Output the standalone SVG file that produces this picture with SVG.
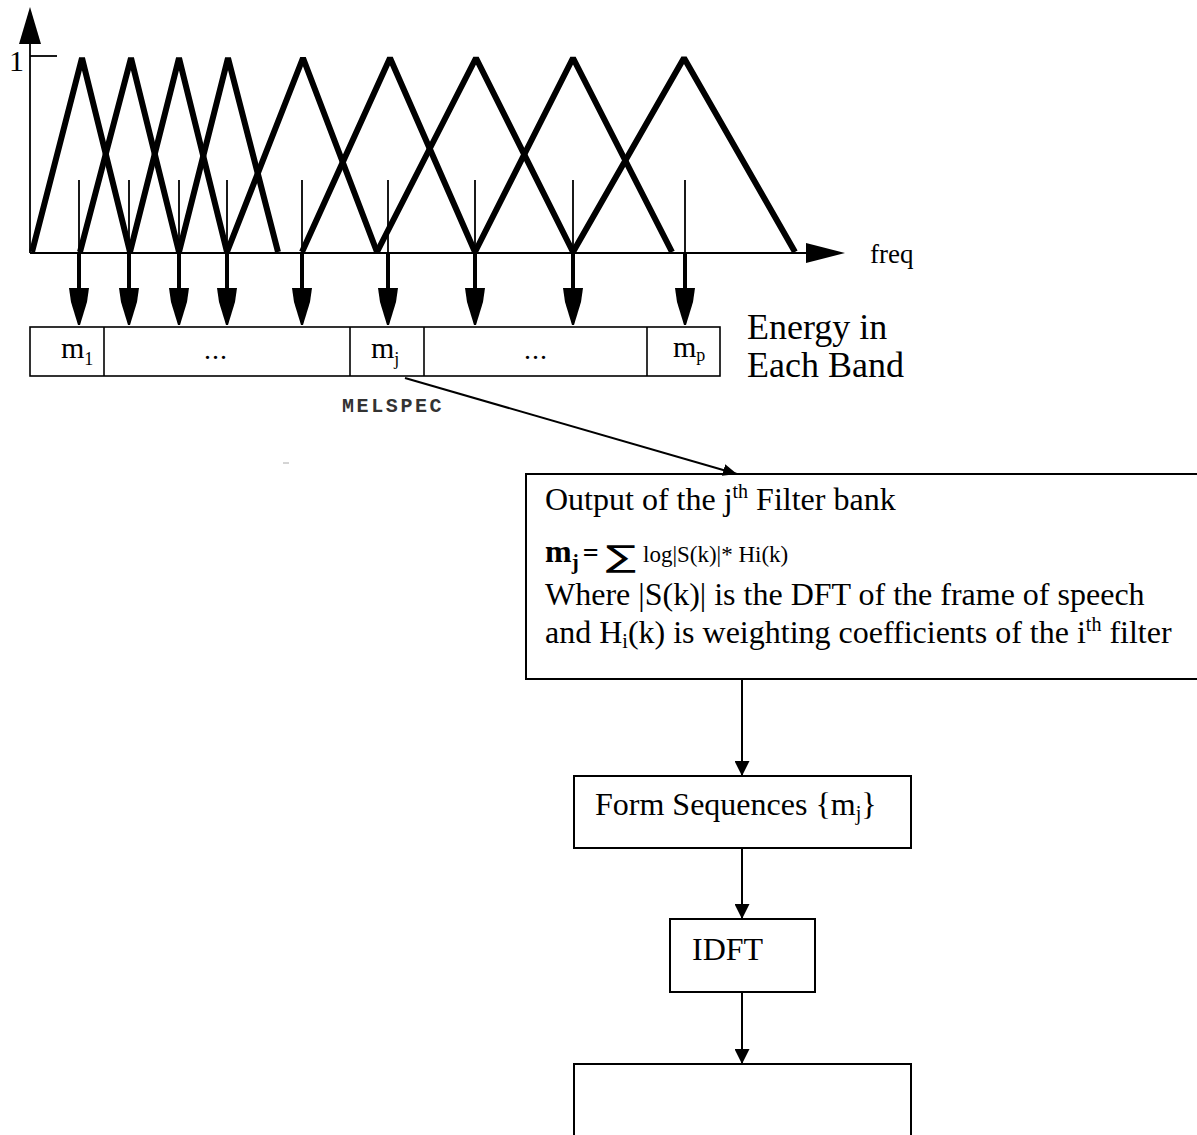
<svg xmlns="http://www.w3.org/2000/svg" width="1197" height="1135" viewBox="0 0 1197 1135">
<style>
.tri{fill:none;stroke:#000;stroke-width:6;stroke-linejoin:bevel}
.axis{fill:none;stroke:#000;stroke-width:1.8}
.box{fill:#fff;stroke:#000;stroke-width:2}
.band{fill:#fff;stroke:#000;stroke-width:1.6}
.div{stroke:#000;stroke-width:1.6}
.serif{font-family:"Liberation Serif","Times New Roman",serif;fill:#000}
.conn{stroke:#000;stroke-width:2;fill:none}
</style>
<defs>
<marker id="ah" viewBox="0 0 15 15" refX="15" refY="7.5" markerWidth="15" markerHeight="15" markerUnits="userSpaceOnUse" orient="auto"><path d="M0,0 L15,7.5 L0,15 z" fill="#000"/></marker>
<marker id="ah2" viewBox="0 0 14 12" refX="14" refY="6" markerWidth="14" markerHeight="12" markerUnits="userSpaceOnUse" orient="auto"><path d="M0,0 L14,6 L0,12 z" fill="#000"/></marker>
<g id="stem">
<line x1="0" y1="180" x2="0" y2="253" stroke="#000" stroke-width="1.8"/>
<line x1="0" y1="253" x2="0" y2="292" stroke="#000" stroke-width="4"/>
<path d="M-10,288 L10,288 L8,302 L1,325 L-1,325 L-8,302 z" fill="#000"/>
</g>
</defs>

<g id="filterbank-plot">
<line class="axis" x1="30" y1="44" x2="30" y2="253"/>
<polygon points="30,7 41,44 19,44" fill="#000"/>
<line class="axis" x1="30" y1="56" x2="57" y2="56"/>
<text class="serif" x="9" y="71" font-size="30">1</text>
<line class="axis" x1="30" y1="253" x2="806" y2="253"/>
<polygon points="806,243 845,253 806,263" fill="#000"/>
<text class="serif" x="870" y="263" font-size="27">freq</text>
<polyline class="tri" points="32,252 82,58 130,252"/>
<polyline class="tri" points="80,252 131,58 179,252"/>
<polyline class="tri" points="130,252 179,58 227,252"/>
<polyline class="tri" points="179,252 228,58 278,252"/>
<polyline class="tri" points="227,252 303,58 377,252"/>
<polyline class="tri" points="302,252 390,58 475,252"/>
<polyline class="tri" points="377,252 476,58 573,252"/>
<polyline class="tri" points="475,252 573,58 672,252"/>
<polyline class="tri" points="573,252 684,58 795,252"/>
<use href="#stem" x="79"/>
<use href="#stem" x="129"/>
<use href="#stem" x="179"/>
<use href="#stem" x="227"/>
<use href="#stem" x="302"/>
<use href="#stem" x="388"/>
<use href="#stem" x="475"/>
<use href="#stem" x="573"/>
<use href="#stem" x="685"/>
</g>

<g id="band-box">
<rect class="band" x="30" y="327" width="690" height="49"/>
<line class="div" x1="104" y1="327" x2="104" y2="376"/>
<line class="div" x1="350" y1="327" x2="350" y2="376"/>
<line class="div" x1="424" y1="327" x2="424" y2="376"/>
<line class="div" x1="647" y1="327" x2="647" y2="376"/>
<text class="serif" x="61" y="358" font-size="30">m<tspan font-size="18" dy="7">1</tspan></text>
<text class="serif" x="204" y="359" font-size="28" letter-spacing="1">...</text>
<text class="serif" x="371" y="358" font-size="30">m<tspan font-size="18" dy="7">j</tspan></text>
<text class="serif" x="524" y="359" font-size="28" letter-spacing="1">...</text>
<text class="serif" x="673" y="357" font-size="30">m<tspan font-size="18" dy="4">p</tspan></text>
<text class="serif" x="747" y="339" font-size="36">Energy in</text>
<text class="serif" x="747" y="377" font-size="36">Each Band</text>
<text x="342" y="412" font-family="Liberation Mono, Courier New, monospace" font-size="20" font-weight="bold" letter-spacing="2.6" fill="#333">MELSPEC</text>
<line x1="283" y1="463" x2="289" y2="463" stroke="#aaa" stroke-width="1"/>
</g>

<g id="output-box">
<rect class="box" x="526" y="474" width="690" height="205"/>
<text class="serif" x="545" y="510" font-size="32">Output of the j<tspan font-size="20" dy="-12">th</tspan><tspan dy="12"> Filter bank</tspan></text>
<text class="serif" x="545" y="562" font-size="32" font-weight="bold">m<tspan font-size="21" dy="7">j</tspan><tspan dy="-7" dx="4" font-size="28">=</tspan></text>
<text transform="translate(606,567) scale(1.5,1)" font-family="DejaVu Sans, sans-serif" font-size="30" fill="#000">∑</text>
<text class="serif" x="643" y="562" font-size="23">log|S(k)|* Hi(k)</text>
<text class="serif" x="545" y="605" font-size="32">Where |S(k)| is the DFT of the frame of speech</text>
<text class="serif" x="545" y="643" font-size="32">and H<tspan font-size="20" dy="5">i</tspan><tspan dy="-5">(k) is weighting coefficients of the i</tspan><tspan font-size="20" dy="-12">th</tspan><tspan dy="12"> filter</tspan></text>
</g>

<g id="form-seq">
<rect class="box" x="574" y="776" width="337" height="72"/>
<text class="serif" x="595" y="815" font-size="32">Form Sequences {m<tspan font-size="20" dy="5">j</tspan><tspan dy="-5">}</tspan></text>
</g>

<g id="idft">
<rect class="box" x="670" y="919" width="145" height="73"/>
<text class="serif" x="692" y="960" font-size="32">IDFT</text>
</g>

<g id="final-box">
<rect class="box" x="574" y="1064" width="337" height="90"/>
</g>

<g id="connectors">
<line class="conn" x1="405" y1="378" x2="737" y2="474" marker-end="url(#ah2)"/>
<line class="conn" x1="742" y1="679" x2="742" y2="776" marker-end="url(#ah)"/>
<line class="conn" x1="742" y1="848" x2="742" y2="919" marker-end="url(#ah)"/>
<line class="conn" x1="742" y1="992" x2="742" y2="1064" marker-end="url(#ah)"/>
</g>
</svg>
